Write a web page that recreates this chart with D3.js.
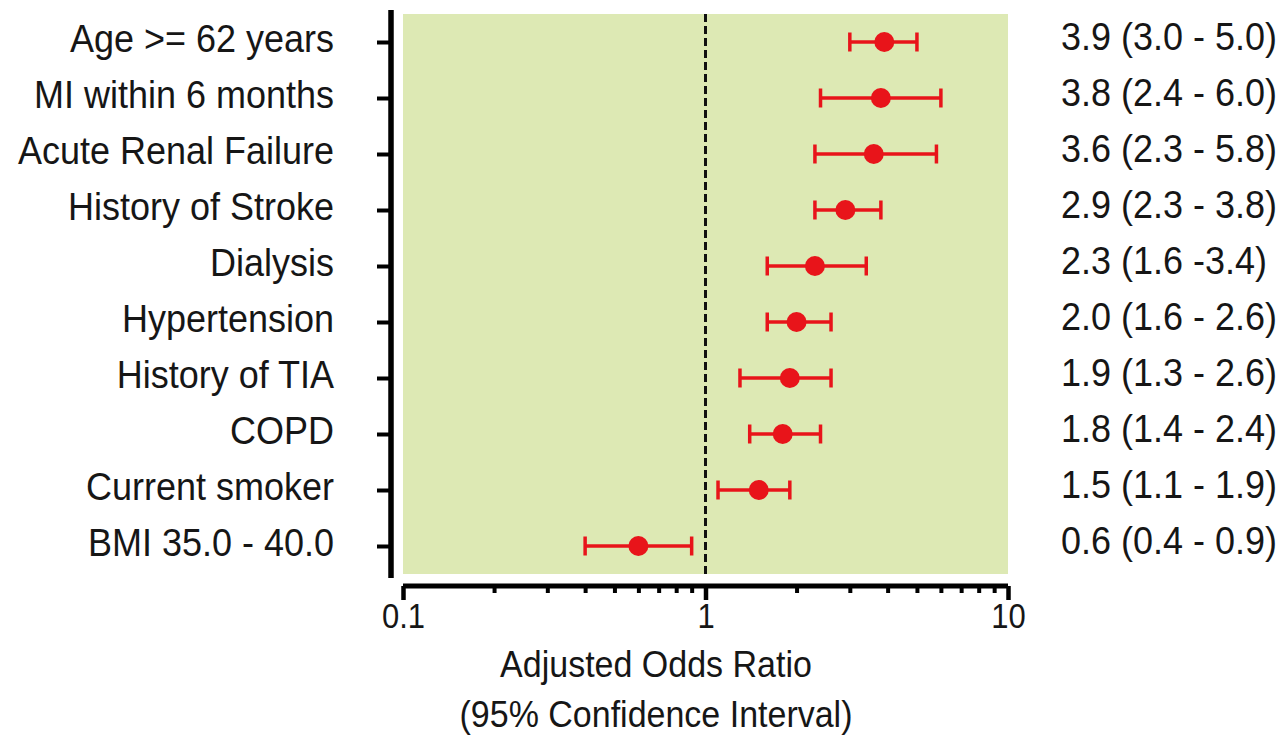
<!DOCTYPE html>
<html>
<head>
<meta charset="utf-8">
<script src="https://cdn.jsdelivr.net/npm/d3@7"></script>
<style>
  html, body { margin: 0; padding: 0; background: #ffffff; }
  svg { display: block; font-family: "Liberation Sans", Arial, sans-serif; }
</style>
</head>
<body>
<svg id="chart" width="1286" height="735"></svg>
<script>
// ---- data ----
const categories = ["Age >= 62 years", "MI within 6 months", "Acute Renal Failure", "History of Stroke",
  "Dialysis", "Hypertension", "History of TIA", "COPD", "Current smoker", "BMI 35.0 - 40.0"];
const oddsRatio = [3.9, 3.8, 3.6, 2.9, 2.3, 2.0, 1.9, 1.8, 1.5, 0.6];
const ciLow     = [3.0, 2.4, 2.3, 2.3, 1.6, 1.6, 1.3, 1.4, 1.1, 0.4];
const ciHigh    = [5.0, 6.0, 5.8, 3.8, 3.4, 2.6, 2.6, 2.4, 1.9, 0.9];
const ciLabels  = ["3.9 (3.0 - 5.0)", "3.8 (2.4 - 6.0)", "3.6 (2.3 - 5.8)", "2.9 (2.3 - 3.8)",
  "2.3 (1.6 -3.4)", "2.0 (1.6 - 2.6)", "1.9 (1.3 - 2.6)", "1.8 (1.4 - 2.4)", "1.5 (1.1 - 1.9)", "0.6 (0.4 - 0.9)"];
const xTickValues = [0.1, 1, 10];
const xTickLabels = ["0.1", "1", "10"];
const xDomain = [0.1, 10];
const refValue = 1;
const titleLines = ["Adjusted Odds Ratio", "(95% Confidence Interval)"];

// ---- layout ----
const svg = d3.select("#chart");
const plotLeft = 403, plotRight = 1008, plotTop = 14, plotBottom = 574;
const yAxisX = 391, xAxisY = 586;
const red = "#e8141a";
const green = "#dde9b4";
const ink = "#161616";
const SY = 1.08; // slight vertical stretch of the reference lettering

const x = d3.scaleLog().domain(xDomain).range([plotLeft, plotRight]);
const y = d3.scalePoint().domain(categories).range([plotTop, plotBottom]).padding(0.5);

const rows = categories.map((c, i) => ({c, or: oddsRatio[i], lo: ciLow[i], hi: ciHigh[i], lab: ciLabels[i]}));

// background panel
svg.append("rect")
  .attr("x", x(xDomain[0])).attr("y", plotTop)
  .attr("width", x(xDomain[1]) - x(xDomain[0])).attr("height", plotBottom - plotTop)
  .attr("fill", green);

// reference dashed line
svg.append("line")
  .attr("x1", x(refValue)).attr("x2", x(refValue))
  .attr("y1", plotTop).attr("y2", plotBottom)
  .attr("stroke", "#111").attr("stroke-width", 3).attr("stroke-dasharray", "8,4");

// y axis
const yAxis = d3.axisLeft(y).tickSize(14).tickFormat("");
const gy = svg.append("g").attr("transform", `translate(${yAxisX},0)`).call(yAxis);
gy.select(".domain").attr("d", `M0,${plotTop - 4}V${plotBottom + 4}`).attr("stroke", "#000").attr("stroke-width", 5.5);
gy.selectAll(".tick line").attr("stroke", "#000").attr("stroke-width", 4);

// category labels
svg.append("g").selectAll("text").data(rows).join("text")
  .attr("transform", d => `translate(334,${y(d.c)}) scale(1,${SY})`)
  .attr("text-anchor", "end").attr("dominant-baseline", "middle")
  .attr("font-size", 36).attr("fill", ink)
  .text(d => d.c);

// x axis: minor + major ticks
const minorTicks = [];
for (let dec = 0.1; dec < 10; dec *= 10) {
  for (let k = 2; k <= 9; k++) minorTicks.push(+(dec * k).toPrecision(3));
}
const gx = svg.append("g").attr("transform", `translate(0,${xAxisY})`);
gx.call(d3.axisBottom(x).tickValues(minorTicks).tickSize(7).tickFormat(""));
gx.select(".domain").remove();
gx.selectAll(".tick line").attr("stroke", "#000").attr("stroke-width", 4);
const gxMajor = svg.append("g").attr("transform", `translate(0,${xAxisY})`)
  .call(d3.axisBottom(x).tickValues(xTickValues).tickSize(14).tickPadding(8)
    .tickFormat((d, i) => xTickLabels[i]));
gxMajor.select(".domain").attr("d", `M${x(xDomain[0])},0H${x(xDomain[1])}`).attr("stroke", "#000").attr("stroke-width", 5);
gxMajor.selectAll(".tick line").attr("stroke", "#000").attr("stroke-width", 4.5);
gxMajor.selectAll(".tick text")
  .attr("font-size", 31).attr("fill", ink)
  .attr("font-family", "'Liberation Sans', Arial, sans-serif")
  .attr("y", null).attr("dy", null)
  .attr("dominant-baseline", "middle")
  .attr("transform", `translate(0,33) scale(1,1.13)`);

// axis title
svg.append("g").selectAll("text").data(titleLines).join("text")
  .attr("transform", (d, i) => `translate(656,${667 + i * 50}) scale(1,${SY})`)
  .attr("text-anchor", "middle").attr("dominant-baseline", "middle")
  .attr("font-size", 34).attr("fill", ink)
  .text(d => d);

// error bars
const eb = svg.append("g").selectAll("g").data(rows).join("g");
eb.append("line")
  .attr("x1", d => x(d.lo)).attr("x2", d => x(d.hi))
  .attr("y1", d => y(d.c)).attr("y2", d => y(d.c))
  .attr("stroke", red).attr("stroke-width", 3.5);
eb.append("line")
  .attr("x1", d => x(d.lo)).attr("x2", d => x(d.lo))
  .attr("y1", d => y(d.c) - 9.5).attr("y2", d => y(d.c) + 9.5)
  .attr("stroke", red).attr("stroke-width", 3.5);
eb.append("line")
  .attr("x1", d => x(d.hi)).attr("x2", d => x(d.hi))
  .attr("y1", d => y(d.c) - 9.5).attr("y2", d => y(d.c) + 9.5)
  .attr("stroke", red).attr("stroke-width", 3.5);
eb.append("circle")
  .attr("cx", d => x(d.or)).attr("cy", d => y(d.c)).attr("r", 10)
  .attr("fill", red);

// right-hand CI labels
svg.append("g").selectAll("text").data(rows).join("text")
  .attr("transform", d => `translate(1061,${y(d.c) - 2}) scale(1,${SY})`)
  .attr("text-anchor", "start").attr("dominant-baseline", "middle")
  .attr("font-size", 36).attr("fill", ink)
  .text(d => d.lab);
</script>
</body>
</html>
